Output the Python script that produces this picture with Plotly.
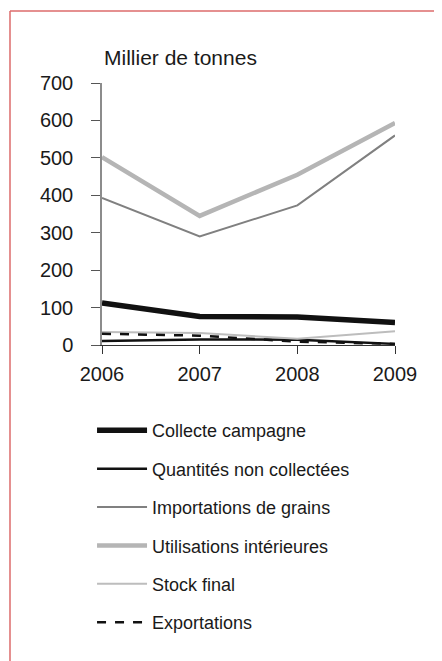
import plotly.graph_objs as go

years = [2006, 2007, 2008, 2009]

collecte = [112, 76, 75, 60]
non_collectees = [11, 15, 14, 3]
importations = [393, 290, 373, 560]
utilisations = [502, 345, 455, 593]
stock_final = [35, 32, 17, 37]
exportations = [30, 25, 9, 3]

series_name = ['Collecte campagne', 'Quantités non collectées', 'Importations de grains',
               'Utilisations intérieures', 'Stock final', 'Exportations']

y_ticks = [0, 100, 200, 300, 400, 500, 600, 700]

font = 'Liberation Sans, Arial, sans-serif'

trace1 = go.Scatter(x=years, y=collecte, name=series_name[0], mode='lines',
                    line=dict(color='#111111', width=5.5), legendgroup='a')
trace2 = go.Scatter(x=years, y=non_collectees, name=series_name[1], mode='lines',
                    line=dict(color='#111111', width=2.5), legendgroup='b')
trace3 = go.Scatter(x=years, y=importations, name=series_name[2], mode='lines',
                    line=dict(color='#808080', width=2), legendgroup='c')
trace4 = go.Scatter(x=years, y=utilisations, name=series_name[3], mode='lines',
                    line=dict(color='#b5b5b5', width=4.5), legendgroup='d')
trace5 = go.Scatter(x=years, y=stock_final, name=series_name[4], mode='lines',
                    line=dict(color='#bdbdbd', width=2), legendgroup='e')
trace6 = go.Scatter(x=years, y=exportations, name=series_name[5], mode='lines',
                    line=dict(color='#111111', width=2.5, dash='dash'), legendgroup='f')

layout = go.Layout(
    width=434, height=653,
    margin=dict(l=94, r=47, t=75, b=316),
    paper_bgcolor='white', plot_bgcolor='white',
    font=dict(family=font, size=20, color='#1a1a1a'),
    xaxis=dict(range=[2006, 2009], tickvals=years, ticks='outside', ticklen=8,
               tickcolor='#333333', showline=True, linecolor='#333333', linewidth=1,
               showgrid=False, zeroline=False, tickfont=dict(size=20), ticklabelstandoff=3),
    yaxis=dict(range=[0, 700], tickvals=y_ticks, ticks='outside', ticklen=9,
               tickcolor='#555555', showline=True, linecolor='#8c8c8c', linewidth=1.5,
               showgrid=False, zeroline=False, tickfont=dict(size=20), ticklabelstandoff=14),
    showlegend=True,
    legend=dict(x=-0.034, y=-0.256, xanchor='left', yanchor='top', tracegroupgap=12,
                traceorder='grouped', itemwidth=50,
                font=dict(size=18), bgcolor='rgba(0,0,0,0)'),
    annotations=[dict(text='Millier de tonnes', xref='paper', yref='paper', x=0.0, y=1.099,
                      xanchor='left', yanchor='middle', showarrow=False, font=dict(size=21))],
    shapes=[
        dict(type='line', xref='paper', yref='paper', x0=-0.314, x1=-0.314, y0=-2, y1=1.275,
             line=dict(color='#dc6b6b', width=1.5)),
        dict(type='line', xref='paper', yref='paper', x0=-0.314, x1=2, y0=1.275, y1=1.275,
             line=dict(color='#dc6b6b', width=1.5)),
    ],
)

fig = go.Figure(data=[trace1, trace2, trace3, trace4, trace5, trace6], layout=layout)
fig.write_html("out.html")
